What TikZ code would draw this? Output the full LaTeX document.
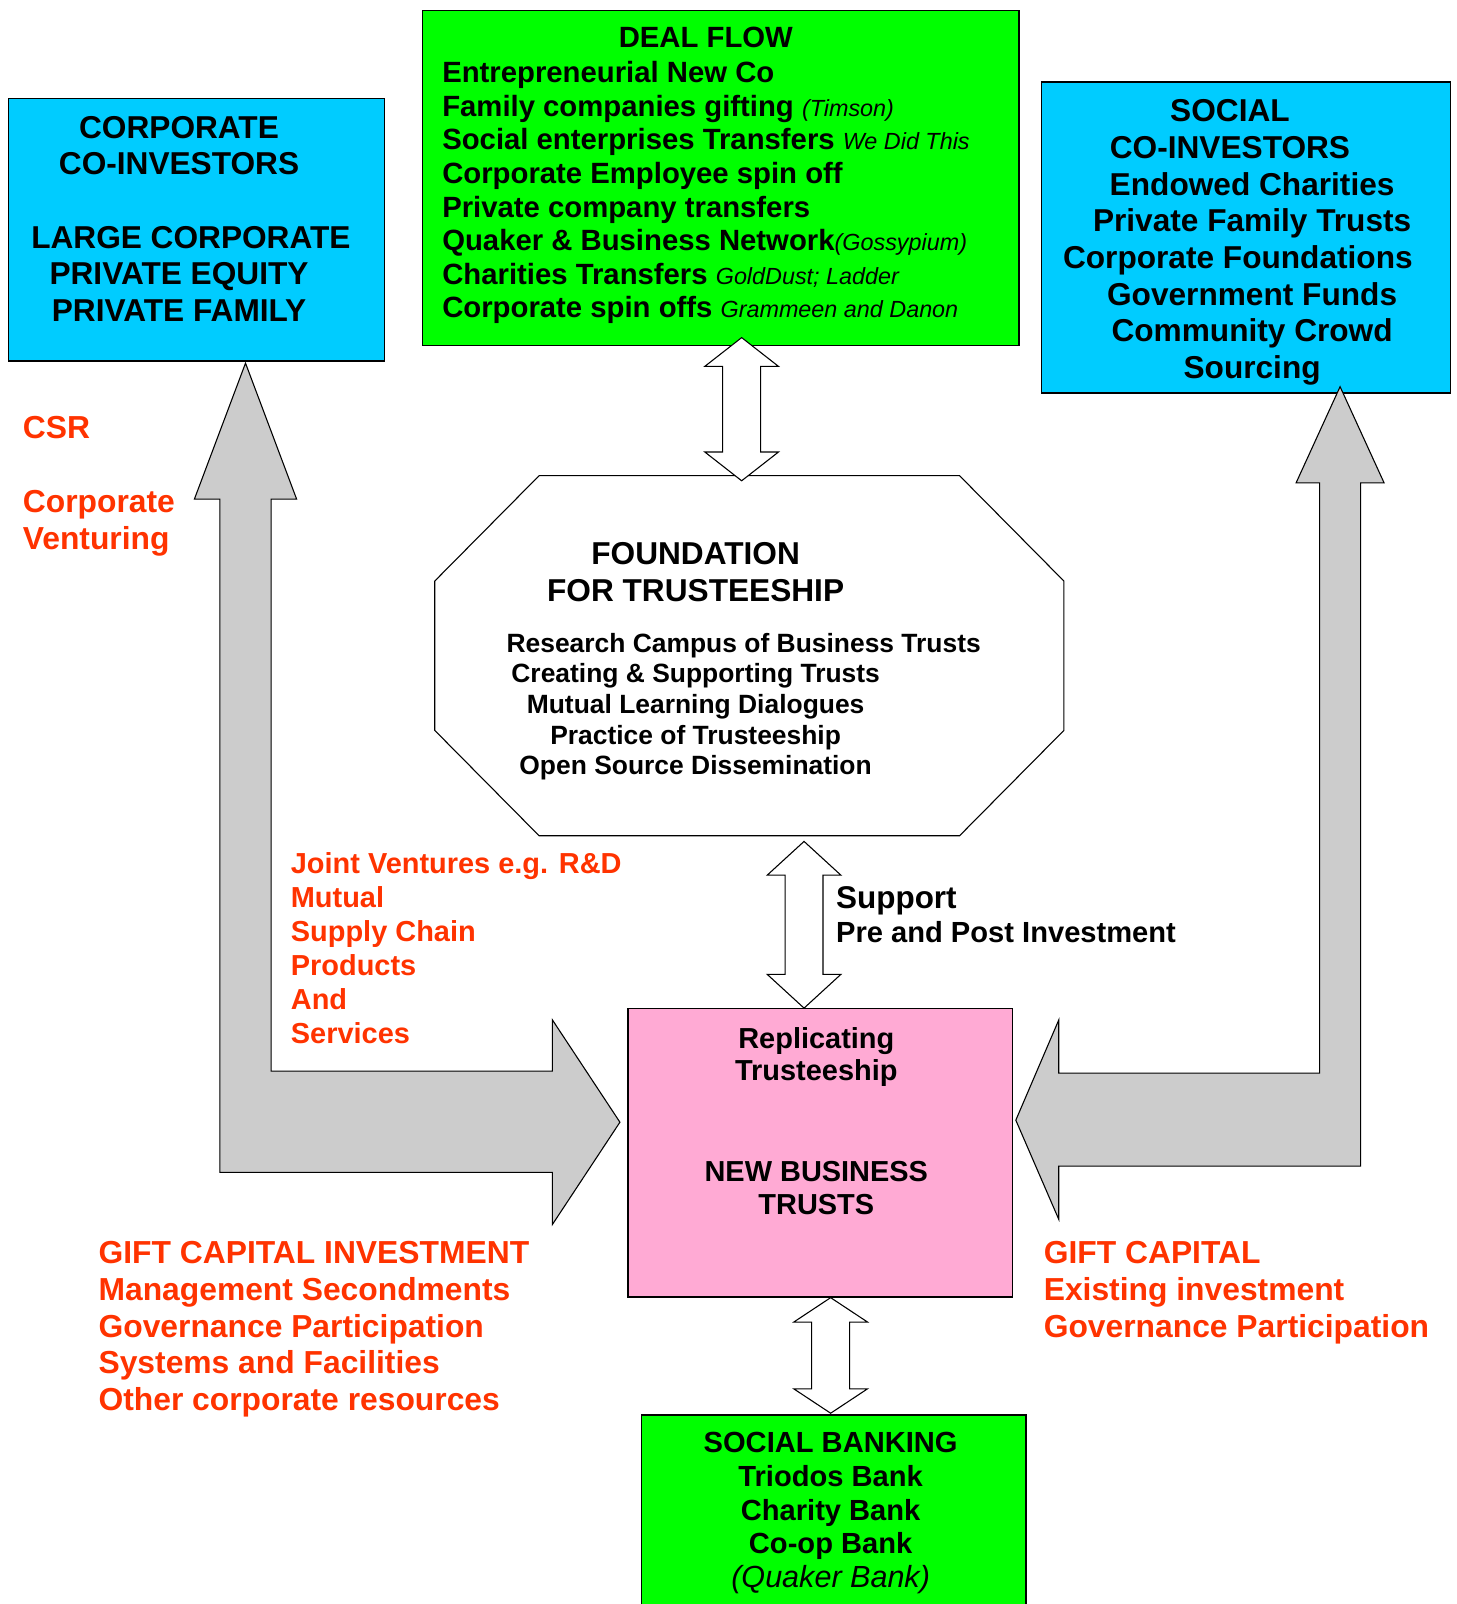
\documentclass[tikz,border=0pt]{standalone}
\usepackage{fontspec}
\setmainfont{Liberation Sans}
\usetikzlibrary{shapes.arrows}
\definecolor{coinvest}{HTML}{00CCFF}
\definecolor{dealgreen}{HTML}{00FF00}
\definecolor{trustpink}{HTML}{FFAAD4}
\definecolor{flowgray}{HTML}{CCCCCC}
\definecolor{giftred}{HTML}{FF3300}
\tikzset{
  investbox/.style = {draw, line width=0.8pt, inner sep=0pt},
  bluebox/.style = {investbox, fill=coinvest},
  greenbox/.style = {investbox, fill=dealgreen},
  pinkbox/.style = {investbox, fill=trustpink},
  octagon/.style = {draw, line width=0.6pt, fill=white},
  bigarrow/.style = {draw, line width=0.6pt, fill=flowgray},
  dblarrow/.style = {double arrow, draw, fill=white, line width=0.6pt, rotate=90,
    inner xsep=0pt, inner ysep=0.36cm, double arrow head extend=0.35cm},
  txt/.style = {inner sep=0pt, font=\bfseries},
  bigtxt/.style = {txt, font=\bfseries\fontsize{17.6pt}{20.4pt}\selectfont},
  dealtxt/.style = {txt, font=\bfseries\fontsize{16.3pt}{18.7pt}\selectfont},
  listtxt/.style = {txt, font=\bfseries\fontsize{14.7pt}{17pt}\selectfont},
  pinktxt/.style = {txt, font=\bfseries\fontsize{16.1pt}{18.1pt}\selectfont},
  banktxt/.style = {txt, font=\bfseries\fontsize{16.2pt}{18.7pt}\selectfont},
  redbig/.style = {txt, text=giftred, font=\bfseries\fontsize{17.7pt}{20.5pt}\selectfont},
  redsmall/.style = {txt, text=giftred, font=\bfseries\fontsize{16.1pt}{18.9pt}\selectfont},
}

\begin{document}
\begin{tikzpicture}[x=0.02cm, y=-0.02cm]
\useasboundingbox (0,0) rectangle (1424,1568);

% boxes
\node[bluebox, minimum width=7.36cm, minimum height=5.14cm] (corp) at (192,224.5) {};
\node[greenbox, minimum width=11.66cm, minimum height=6.56cm] (deal) at (704.5,174) {};
\node[bluebox, minimum width=8cm, minimum height=6.08cm] (social) at (1218,232) {};
\node[pinkbox, minimum width=7.52cm, minimum height=5.64cm] (trusts) at (802,1127) {};
\node[greenbox, minimum width=7.52cm, minimum height=3.9cm] (bank) at (815,1480.5) {};
\draw[octagon] (527,465) -- (938,465) -- (1040,568) -- (1040,714) -- (938,817)
  -- (527,817) -- (425,714) -- (425,568) -- cycle;

% gray flows
\draw[bigarrow] (240,355) -- (290,488) -- (265,488) -- (265,1047) -- (540,1047) -- (540,997)
  -- (606,1097) -- (540,1197) -- (540,1146) -- (215,1146) -- (215,488) -- (190,488) -- cycle;
\draw[bigarrow] (1310,378) -- (1353,472) -- (1330,472) -- (1330,1140) -- (1035,1140) -- (1035,1192)
  -- (993,1095) -- (1035,997) -- (1035,1049) -- (1290,1049) -- (1290,472) -- (1267,472) -- cycle;

% two way arrows
\node[dblarrow, minimum height=2.8cm, double arrow tip angle=104] (dealarr) at (725,400) {};
\node[dblarrow, minimum height=3.26cm, double arrow tip angle=95] (supportarr) at (786,904) {};
\node[dblarrow, minimum height=2.26cm, double arrow tip angle=113] (bankarr) at (812,1325) {};

% texts
\node[bigtxt, align=center, anchor=north] (corptxt) at (175,113)
  {CORPORATE\\ CO-INVESTORS\\ ~\\ \hspace*{0.75em}LARGE CORPORATE\\ PRIVATE EQUITY\\ PRIVATE FAMILY};
\node[dealtxt, anchor=north] (dealtitle) at (690,25.7) {DEAL FLOW};
\node[dealtxt, align=left, anchor=north west] (dealtxt) at (432,59.7)
  {Entrepreneurial New Co\\
   Family companies gifting {\mdseries\itshape\fontsize{13pt}{15pt}\selectfont (Timson)}\\
   Social enterprises Transfers {\mdseries\itshape\fontsize{13pt}{15pt}\selectfont We Did This}\\
   Corporate Employee spin off\\
   Private company transfers\\
   Quaker \& Business Network{\mdseries\itshape\fontsize{13pt}{15pt}\selectfont (Gossypium)}\\
   Charities Transfers {\mdseries\itshape\fontsize{13pt}{15pt}\selectfont GoldDust; Ladder}\\
   Corporate spin offs {\mdseries\itshape\fontsize{13pt}{15pt}\selectfont Grammeen and Danon}};
\node[bigtxt, align=center, anchor=north] (socialtxt) at (1224,97)
  {SOCIAL\mbox{\hspace{1.4em}}\\ CO-INVESTORS\mbox{\hspace{1.4em}}\\ Endowed Charities\\ Private Family Trusts\\
   Corporate Foundations\mbox{\hspace{0.9em}}\\ Government Funds\\ Community Crowd\\ Sourcing};
\node[bigtxt, align=center, anchor=north] (foundtitle) at (680,530) {FOUNDATION\\ FOR TRUSTEESHIP};
\node[listtxt, align=center, anchor=north] (foundtxt) at (680,618.7)
  {\hspace*{1.88cm}Research Campus of Business Trusts\\ Creating \& Supporting Trusts\\
   Mutual Learning Dialogues\\ Practice of Trusteeship\\ Open Source Dissemination};
\node[pinktxt, align=center, anchor=north] (trusttxt) at (798,1004)
  {Replicating\\ Trusteeship\\ ~\\ ~\\[0.06cm] NEW BUSINESS\\ TRUSTS};
\node[banktxt, align=center, anchor=north] (banktxt) at (812,1400)
  {SOCIAL BANKING\\ Triodos Bank\\ Charity Bank\\ Co-op Bank\\
   {\mdseries\itshape\fontsize{17pt}{18.7pt}\selectfont (Quaker Bank)}};
\node[txt, align=left, anchor=north west, font=\bfseries\fontsize{16.2pt}{19.3pt}\selectfont] (supporttxt) at (817,866)
  {{\fontsize{17.5pt}{19.3pt}\selectfont Support}\\ Pre and Post Investment};
\node[redbig, align=left, anchor=north west] (csrtxt) at (22,407)
  {CSR\\ ~\\ Corporate\\ Venturing};
\node[redsmall, align=left, anchor=north west] (jointtxt) at (284,833)
  {Joint Ventures e.g. R\&D\\ Mutual\\ Supply Chain\\ Products\\ And\\ Services};
\node[redbig, align=left, anchor=north west] (giftleft) at (96,1213)
  {GIFT CAPITAL INVESTMENT\\ Management Secondments\\ Governance Participation\\
   Systems and Facilities\\ Other corporate resources};
\node[redbig, align=left, anchor=north west] (giftright) at (1020,1213)
  {GIFT CAPITAL\\ Existing investment\\ Governance Participation};
\end{tikzpicture}
\end{document}
